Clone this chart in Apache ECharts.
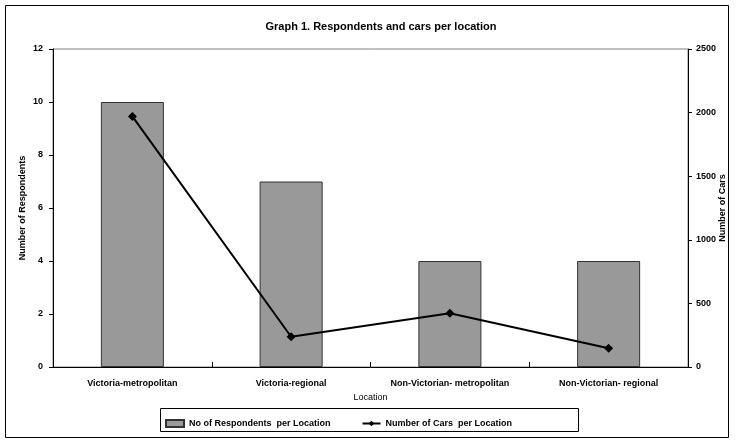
<!DOCTYPE html>
<html><head><meta charset="utf-8">
<script src="https://cdn.jsdelivr.net/npm/echarts@6/dist/echarts.min.js"></script>
<style>html,body{margin:0;padding:0;background:#fff}#c{width:736px;height:444px}</style>
</head><body><div id="c"></div>
<script>
const categories = ['Victoria-metropolitan', 'Victoria-regional', 'Non-Victorian- metropolitan', 'Non-Victorian- regional'];
const respondents = [10, 7, 4, 4];
const cars = [1970, 238, 422, 147];
const leftTicks = [0, 12, 2];
const rightTicks = [0, 2500, 500];

const chart = echarts.init(document.getElementById('c'));
const font = 'Liberation Sans, Arial, sans-serif';
chart.setOption({
  animation: false,
  title: {
    text: 'Graph 1. Respondents and cars per location',
    left: 376, top: 16, textAlign: 'center',
    textStyle: {fontFamily: font, fontSize: 11, fontWeight: 'bold', color: '#000'}
  },
  graphic: [
    {type: 'rect', shape: {x: 5.5, y: 5.5, width: 723, height: 432}, style: {fill: 'none', stroke: '#000', lineWidth: 1}, z: -1},
    {type: 'rect', shape: {x: 160.5, y: 408.5, width: 418, height: 23}, style: {fill: 'none', stroke: '#000', lineWidth: 1}, z: -1}
  ],
  legend: {
    left: 160, top: 414, itemGap: 31, itemWidth: 18, itemHeight: 7,
    textStyle: {fontFamily: font, fontSize: 9, fontWeight: 'bold', color: '#000'},
    data: [
      {name: 'No of Respondents  per Location', icon: 'rect'},
      {name: 'Number of Cars  per Location'}
    ]
  },
  grid: {left: 53, right: 48, top: 49, bottom: 77, show: true, borderColor: '#808080', borderWidth: 1, outerBoundsMode: 'none', containLabel: false},
  xAxis: {
    type: 'category', data: categories,
    name: 'Location', nameLocation: 'middle', nameGap: 26,
    nameTextStyle: {fontFamily: font, fontSize: 9, color: '#000'},
    axisLine: {lineStyle: {color: '#000', width: 1}},
    axisTick: {show: true, inside: true, length: 5, lineStyle: {color: '#000'}},
    axisLabel: {fontFamily: font, fontSize: 9, fontWeight: 'bold', color: '#000', margin: 12, interval: 0}
  },
  yAxis: [
    {
      type: 'value', min: leftTicks[0], max: leftTicks[1], interval: leftTicks[2],
      name: 'Number of Respondents', nameLocation: 'middle', nameGap: 26, nameRotate: 90, nameMoveOverlap: false,
      nameTextStyle: {fontFamily: font, fontSize: 9, fontWeight: 'bold', color: '#000'},
      axisLine: {show: true, lineStyle: {color: '#000'}},
      axisTick: {show: true, length: 4, lineStyle: {color: '#000'}},
      splitLine: {show: false},
      axisLabel: {fontFamily: font, fontSize: 9, fontWeight: 'bold', color: '#000', margin: 10}
    },
    {
      type: 'value', min: rightTicks[0], max: rightTicks[1], interval: rightTicks[2],
      name: 'Number of Cars', nameLocation: 'middle', nameGap: 30, nameRotate: 90, nameMoveOverlap: false,
      nameTextStyle: {fontFamily: font, fontSize: 9, fontWeight: 'bold', color: '#000'},
      position: 'right',
      axisLine: {show: true, lineStyle: {color: '#000'}},
      axisTick: {show: true, length: 4, lineStyle: {color: '#000'}},
      splitLine: {show: false},
      axisLabel: {fontFamily: font, fontSize: 9, fontWeight: 'bold', color: '#000', margin: 8, formatter: v => String(v)}
    }
  ],
  series: [
    {
      name: 'No of Respondents  per Location', type: 'bar', data: respondents, yAxisIndex: 0,
      barWidth: '39.7%',
      itemStyle: {color: '#999999', borderColor: '#333', borderWidth: 1}
    },
    {
      name: 'Number of Cars  per Location', type: 'line', data: cars, yAxisIndex: 1,
      symbol: 'diamond', symbolSize: 9,
      lineStyle: {color: '#000', width: 2}, itemStyle: {color: '#000'}
    }
  ]
});
</script></body></html>
